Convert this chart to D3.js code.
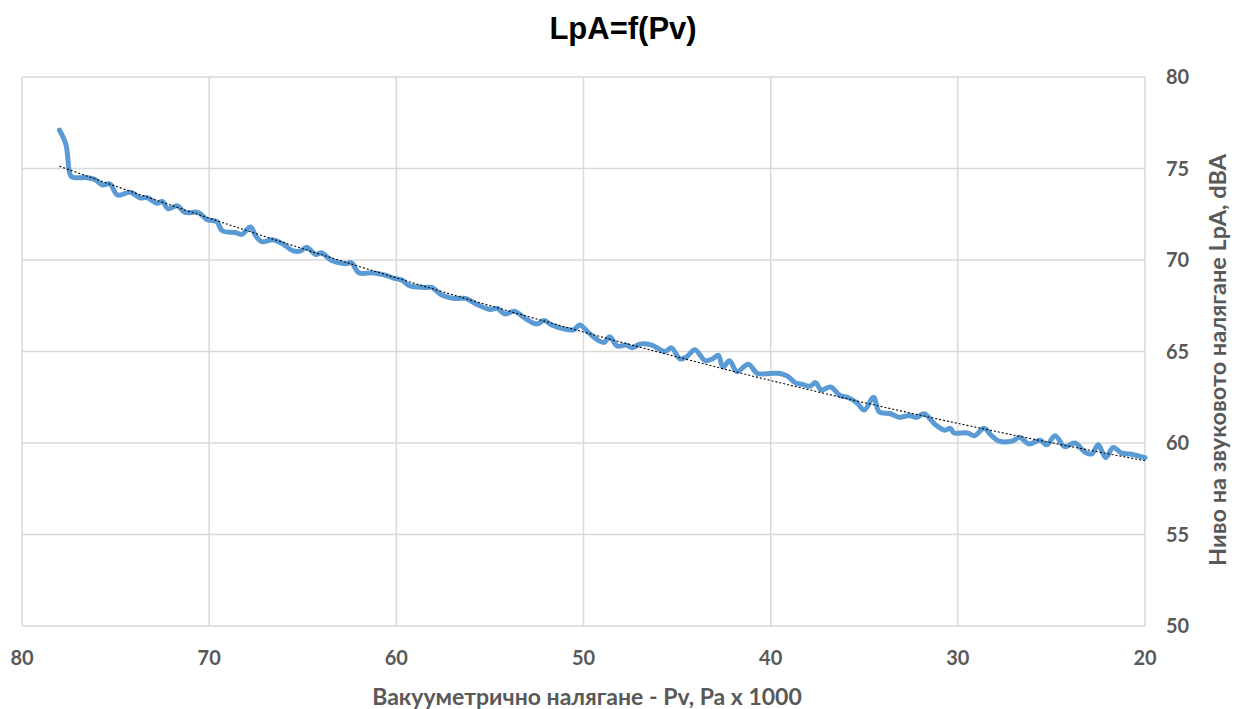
<!DOCTYPE html>
<html>
<head>
<meta charset="utf-8">
<script src="https://cdn.jsdelivr.net/npm/d3@7"></script>
<style>
  body { margin: 0; background: #fff; }
  svg text { font-family: Lato, "Open Sans", sans-serif; }
</style>
</head>
<body>
<script>
// vacuum pressure, Pa x 1000
var pv = [78.0, 77.65, 77.4, 77.2, 76.5, 76.1, 75.7, 75.3, 74.9, 74.2, 73.7, 73.3, 72.8, 72.5, 72.2,
  71.7, 71.3, 70.6, 70.1, 69.6, 69.3, 68.6, 68.25, 67.8, 67.5, 67.2, 66.6, 66.1, 65.5, 65.1,
  64.8, 64.3, 64.0, 63.5, 62.7, 62.4, 62.0, 61.3, 60.7, 60.1, 59.7, 59.3, 58.5, 58.1, 57.6,
  56.9, 56.3, 55.75, 55.0, 54.6, 54.2, 53.7, 53.1, 52.5, 52.1, 51.7, 50.9, 50.5, 50.2, 49.7,
  49.2, 48.9, 48.6, 48.2, 47.7, 47.4, 47.0, 46.35, 45.65, 45.3, 44.85, 44.5, 44.05, 43.5, 43.1,
  42.8, 42.55, 42.2, 41.8, 41.2, 40.7, 40.0, 39.5, 39.1, 38.7, 38.3, 37.9, 37.6, 37.3, 36.8,
  36.3, 35.9, 35.4, 35.0, 34.5, 34.2, 33.6, 33.1, 32.6, 32.2, 31.8, 31.2, 30.7, 30.4, 30.2,
  29.5, 29.1, 28.6, 28.2, 27.8, 27.1, 26.7, 26.2, 25.6, 25.25, 24.8, 24.3, 23.75, 23.2, 22.85,
  22.5, 22.1, 21.7, 21.25, 20.8, 20.0];
// sound pressure level, dBA
var lpa = [77.1, 76.3, 74.6, 74.5, 74.5, 74.4, 74.1, 74.15, 73.55, 73.7, 73.4, 73.4, 73.1, 73.2, 72.8,
  72.96, 72.6, 72.6, 72.2, 72.1, 71.6, 71.5, 71.4, 71.8, 71.3, 71.0, 71.1, 70.9, 70.5, 70.5,
  70.7, 70.3, 70.4, 70.0, 69.8, 69.85, 69.3, 69.3, 69.2, 69.0, 68.9, 68.6, 68.5, 68.5, 68.1,
  67.9, 67.9, 67.6, 67.3, 67.35, 67.05, 67.2, 66.8, 66.5, 66.7, 66.45, 66.2, 66.2, 66.45, 66.0,
  65.6, 65.5, 65.8, 65.3, 65.35, 65.2, 65.4, 65.35, 65.0, 65.2, 64.6, 64.7, 65.1, 64.5, 64.6,
  64.8, 64.15, 64.5, 63.9, 64.3, 63.8, 63.8, 63.8, 63.65, 63.3, 63.2, 63.1, 63.3, 62.9, 63.06,
  62.6, 62.5, 62.2, 61.8, 62.5, 61.7, 61.6, 61.4, 61.5, 61.4, 61.6, 61.0, 60.7, 60.8, 60.55,
  60.55, 60.4, 60.8, 60.4, 60.1, 60.1, 60.3, 59.95, 60.15, 59.9, 60.4, 59.8, 60.0, 59.5, 59.4,
  59.9, 59.2, 59.75, 59.45, 59.4, 59.2];
var xTicks = [80, 70, 60, 50, 40, 30, 20];
var yTicks = [50, 55, 60, 65, 70, 75, 80];

var W = 1236, H = 709;
var m = { left: 22, right: 1145, top: 77, bottom: 626 };

var svg = d3.select("body").append("svg").attr("width", W).attr("height", H);

var x = d3.scaleLinear().domain([80, 20]).range([m.left, m.right]);
var y = d3.scaleLinear().domain([50, 80]).range([m.bottom, m.top]);

// grid
svg.append("g").selectAll("line").data(xTicks).enter().append("line")
  .attr("x1", function(d) { return x(d); }).attr("x2", function(d) { return x(d); })
  .attr("y1", m.top).attr("y2", m.bottom)
  .attr("stroke", "#d9d9d9").attr("stroke-width", 1.5);
svg.append("g").selectAll("line").data(yTicks).enter().append("line")
  .attr("x1", m.left).attr("x2", m.right)
  .attr("y1", function(d) { return y(d); }).attr("y2", function(d) { return y(d); })
  .attr("stroke", "#d9d9d9").attr("stroke-width", 1.5);

// tick labels
svg.append("g").selectAll("text").data(xTicks).enter().append("text")
  .attr("x", function(d) { return x(d); }).attr("y", 665)
  .attr("text-anchor", "middle")
  .attr("font-size", 20).attr("font-weight", "bold").attr("fill", "#595959")
  .text(function(d) { return d; });
svg.append("g").selectAll("text").data(yTicks).enter().append("text")
  .attr("x", 1166).attr("y", function(d) { return y(d) + 7; })
  .attr("font-size", 20).attr("font-weight", "bold").attr("fill", "#595959")
  .text(function(d) { return d; });

// data line
var pts = pv.map(function(v, i) { return [v, lpa[i]]; });
var line = d3.line()
  .x(function(d) { return x(d[0]); })
  .y(function(d) { return y(d[1]); })
  .curve(d3.curveCatmullRom.alpha(0.5));
svg.append("path").datum(pts)
  .attr("d", line)
  .attr("fill", "none").attr("stroke", "#5b9bd5")
  .attr("stroke-width", 5).attr("stroke-linejoin", "round").attr("stroke-linecap", "round");

// polynomial (2nd order) trendline by least squares
function polyFit(xs, ys) {
  var S = [0, 0, 0, 0, 0], T = [0, 0, 0];
  for (var i = 0; i < xs.length; i++) {
    var p = 1;
    for (var k = 0; k < 5; k++) { S[k] += p; if (k < 3) T[k] += p * ys[i]; p *= xs[i]; }
  }
  var A = [[S[0], S[1], S[2], T[0]], [S[1], S[2], S[3], T[1]], [S[2], S[3], S[4], T[2]]];
  for (var c = 0; c < 3; c++) {
    for (var r = c + 1; r < 3; r++) {
      var f = A[r][c] / A[c][c];
      for (var j = c; j < 4; j++) A[r][j] -= f * A[c][j];
    }
  }
  var b = [0, 0, 0];
  for (var r2 = 2; r2 >= 0; r2--) {
    var s = A[r2][3];
    for (var j2 = r2 + 1; j2 < 3; j2++) s -= A[r2][j2] * b[j2];
    b[r2] = s / A[r2][r2];
  }
  return b;
}
var coef = polyFit(pv, lpa);
var trend = d3.range(pv[0], pv[pv.length - 1] - 0.01, -0.5).map(function(v) {
  return [v, coef[0] + coef[1] * v + coef[2] * v * v];
});
svg.append("path").datum(trend)
  .attr("d", d3.line().x(function(d) { return x(d[0]); }).y(function(d) { return y(d[1]); }))
  .attr("fill", "none").attr("stroke", "#000").attr("stroke-width", 1.1)
  .attr("stroke-dasharray", "2,2");

// titles
svg.append("text").attr("x", 623).attr("y", 39).attr("text-anchor", "middle")
  .style("font-family", "'Liberation Sans', Arial, sans-serif")
  .attr("font-size", 31).attr("font-weight", "bold").attr("fill", "#000")
  .text("LpA=f(Pv)");
svg.append("text").attr("x", 587).attr("y", 705).attr("text-anchor", "middle")
  .attr("font-size", 23).attr("font-weight", "bold").attr("fill", "#595959")
  .text("Вакууметрично налягане - Pv, Pa x 1000");
svg.append("text")
  .attr("transform", "translate(1226,360) rotate(-90)")
  .attr("text-anchor", "middle")
  .attr("font-size", 23.5).attr("font-weight", "bold").attr("fill", "#595959")
  .text("Ниво на звуковото налягане LpA, dBA");
</script>
</body>
</html>
